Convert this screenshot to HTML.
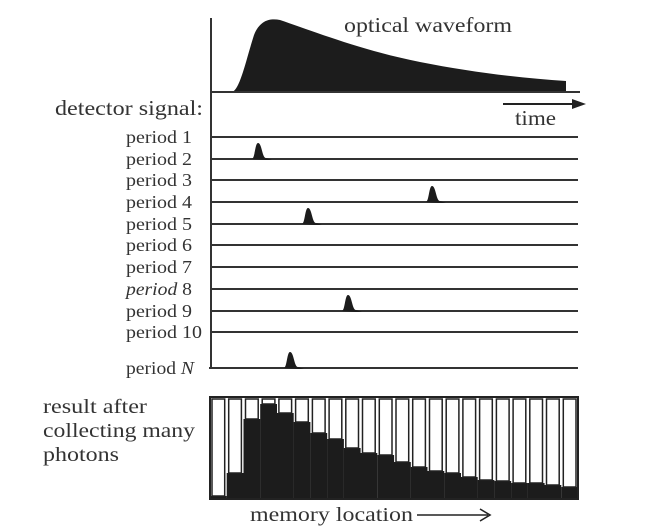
<!DOCTYPE html>
<html><head><style>
html,body{margin:0;padding:0;background:#fff;}
svg text{font-family:"Liberation Serif",serif;fill:#333;}
</style></head><body>
<svg width="650" height="526" viewBox="0 0 650 526" xmlns="http://www.w3.org/2000/svg">
<line x1="211" y1="18" x2="211" y2="368" stroke="#333" stroke-width="2"/>
<path d="M232,92 C240,90 246,60 254,35 C260,20 270,18 280,20 C310,30 360,50 420,62 C470,72 520,78 566,81 L566,92 Z" fill="#1c1c1c"/>
<line x1="211" y1="92" x2="580" y2="92" stroke="#333" stroke-width="2"/>
<text x="344" y="32" font-size="21" textLength="168" lengthAdjust="spacingAndGlyphs">optical waveform</text>
<line x1="503" y1="104" x2="578" y2="104" stroke="#222" stroke-width="2"/>
<polygon points="586,104 572,99 572,109" fill="#222"/>
<text x="515" y="125" font-size="21" textLength="41" lengthAdjust="spacingAndGlyphs">time</text>
<text x="55" y="115" font-size="21" textLength="148" lengthAdjust="spacingAndGlyphs">detector signal:</text>
<g stroke="#333" stroke-width="2">
<line x1="211" y1="137" x2="578" y2="137"/>
<line x1="211" y1="159" x2="578" y2="159"/>
<line x1="211" y1="180" x2="578" y2="180"/>
<line x1="211" y1="202" x2="578" y2="202"/>
<line x1="211" y1="224" x2="578" y2="224"/>
<line x1="211" y1="245" x2="578" y2="245"/>
<line x1="211" y1="267" x2="578" y2="267"/>
<line x1="211" y1="289" x2="578" y2="289"/>
<line x1="211" y1="311" x2="578" y2="311"/>
<line x1="211" y1="332" x2="578" y2="332"/>
<line x1="209" y1="368" x2="578" y2="368"/>
</g>
<g fill="#1c1c1c">
<path d="M252,159 C255,158 255,143 258,143 C262,143 262,158 266,158 L272,160 L266,160 Z"/>
<path d="M426,202 C429,201 429,186 432,186 C436,186 436,201 440,201 L446,203 L440,203 Z"/>
<path d="M302,224 C305,223 305,208 308,208 C312,208 312,223 316,223 L322,225 L316,225 Z"/>
<path d="M342,311 C345,310 345,295 348,295 C352,295 352,310 356,310 L362,312 L356,312 Z"/>
<path d="M284,368 C287,367 287,352 290,352 C294,352 294,367 298,367 L304,369 L298,369 Z"/>
</g>
<g font-size="18">
<text x="126" y="143" textLength="66" lengthAdjust="spacingAndGlyphs">period 1</text>
<text x="126" y="165" textLength="66" lengthAdjust="spacingAndGlyphs">period 2</text>
<text x="126" y="186" textLength="66" lengthAdjust="spacingAndGlyphs">period 3</text>
<text x="126" y="208" textLength="66" lengthAdjust="spacingAndGlyphs">period 4</text>
<text x="126" y="230" textLength="66" lengthAdjust="spacingAndGlyphs">period 5</text>
<text x="126" y="251" textLength="66" lengthAdjust="spacingAndGlyphs">period 6</text>
<text x="126" y="273" textLength="66" lengthAdjust="spacingAndGlyphs">period 7</text>
<text x="126" y="295" textLength="66" lengthAdjust="spacingAndGlyphs"><tspan font-style="italic">period</tspan> 8</text>
<text x="126" y="317" textLength="66" lengthAdjust="spacingAndGlyphs">period 9</text>
<text x="126" y="338" textLength="76" lengthAdjust="spacingAndGlyphs">period 10</text>
<text x="126" y="374" textLength="68" lengthAdjust="spacingAndGlyphs">period <tspan font-style="italic">N</tspan></text>
</g>
<g fill="#1c1c1c">
<rect x="210.0" y="496" width="16.8" height="3"/>
<rect x="226.7" y="473" width="16.8" height="26"/>
<rect x="243.5" y="419" width="16.8" height="80"/>
<rect x="260.2" y="404" width="16.8" height="95"/>
<rect x="276.9" y="413" width="16.8" height="86"/>
<rect x="293.6" y="422" width="16.8" height="77"/>
<rect x="310.4" y="433" width="16.8" height="66"/>
<rect x="327.1" y="439" width="16.8" height="60"/>
<rect x="343.8" y="448" width="16.8" height="51"/>
<rect x="360.5" y="453" width="16.8" height="46"/>
<rect x="377.3" y="455" width="16.8" height="44"/>
<rect x="394.0" y="462" width="16.8" height="37"/>
<rect x="410.7" y="467" width="16.8" height="32"/>
<rect x="427.5" y="471" width="16.8" height="28"/>
<rect x="444.2" y="473" width="16.8" height="26"/>
<rect x="460.9" y="477" width="16.8" height="22"/>
<rect x="477.6" y="480" width="16.8" height="19"/>
<rect x="494.4" y="481" width="16.8" height="18"/>
<rect x="511.1" y="483" width="16.8" height="16"/>
<rect x="527.8" y="483" width="16.8" height="16"/>
<rect x="544.5" y="485" width="16.8" height="14"/>
<rect x="561.3" y="487" width="16.8" height="12"/>
</g>
<g fill="#fff" stroke="#222" stroke-width="1.5">
<rect x="212.0" y="399" width="12.7" height="97"/>
<rect x="228.7" y="399" width="12.7" height="74"/>
<rect x="245.5" y="399" width="12.7" height="20"/>
<rect x="262.2" y="399" width="12.7" height="5"/>
<rect x="278.9" y="399" width="12.7" height="14"/>
<rect x="295.6" y="399" width="12.7" height="23"/>
<rect x="312.4" y="399" width="12.7" height="34"/>
<rect x="329.1" y="399" width="12.7" height="40"/>
<rect x="345.8" y="399" width="12.7" height="49"/>
<rect x="362.5" y="399" width="12.7" height="54"/>
<rect x="379.3" y="399" width="12.7" height="56"/>
<rect x="396.0" y="399" width="12.7" height="63"/>
<rect x="412.7" y="399" width="12.7" height="68"/>
<rect x="429.5" y="399" width="12.7" height="72"/>
<rect x="446.2" y="399" width="12.7" height="74"/>
<rect x="462.9" y="399" width="12.7" height="78"/>
<rect x="479.6" y="399" width="12.7" height="81"/>
<rect x="496.4" y="399" width="12.7" height="82"/>
<rect x="513.1" y="399" width="12.7" height="84"/>
<rect x="529.8" y="399" width="12.7" height="84"/>
<rect x="546.5" y="399" width="12.7" height="86"/>
<rect x="563.3" y="399" width="12.7" height="88"/>
</g>
<rect x="210" y="397" width="368" height="102" fill="none" stroke="#222" stroke-width="2"/>
<g font-size="20">
<text x="43" y="413" textLength="104" lengthAdjust="spacingAndGlyphs">result after</text>
<text x="43" y="437" textLength="152" lengthAdjust="spacingAndGlyphs">collecting many</text>
<text x="43" y="461" textLength="76" lengthAdjust="spacingAndGlyphs">photons</text>
<text x="250" y="521" textLength="163" lengthAdjust="spacingAndGlyphs">memory location</text>
</g>
<line x1="417" y1="515" x2="488" y2="515" stroke="#222" stroke-width="1.6"/>
<polyline points="480,509 490,515 480,521" fill="none" stroke="#222" stroke-width="1.6"/>
</svg>
</body></html>
